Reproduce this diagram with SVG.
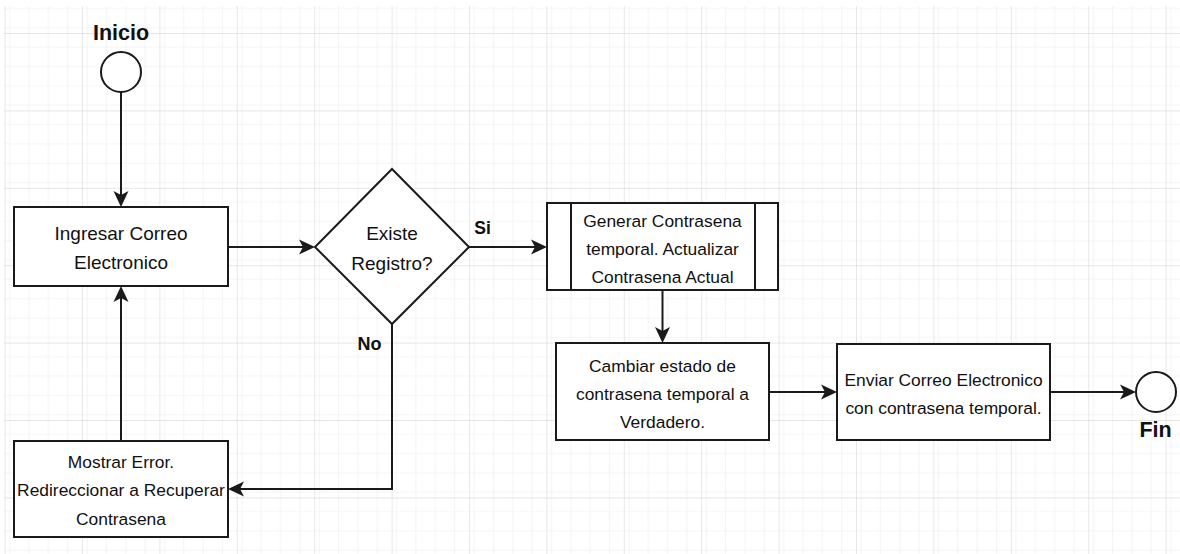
<svg xmlns="http://www.w3.org/2000/svg" width="1180" height="554" viewBox="0 0 1180 554">
  <style>
    .shape { fill: #ffffff; stroke: #1a1a1a; stroke-width: 2; }
    .edge { fill: none; stroke: #1a1a1a; stroke-width: 2; }
    .txt { font-family: "Liberation Sans", Arial, sans-serif; fill: #111111; text-anchor: middle; }
    .n17 { font-size: 17.4px; }
    .n19 { font-size: 19px; }
    .lbl { font-family: "Liberation Sans", Arial, sans-serif; font-weight: bold; fill: #111111; }
  </style>
  <defs>
    <pattern id="minorGrid" x="4.6" y="33" width="19.35" height="19.35" patternUnits="userSpaceOnUse">
      <path d="M0,0 H19.35 M0,0 V19.35" fill="none" stroke="#ececec" stroke-width="1.2"/>
    </pattern>
    <pattern id="majorGrid" x="4.6" y="33" width="77.4" height="77.4" patternUnits="userSpaceOnUse">
      <rect width="77.4" height="77.4" fill="url(#minorGrid)"/>
      <path d="M0,0 H77.4 M0,0 V77.4" fill="none" stroke="#dedede" stroke-width="1.4"/>
    </pattern>
    <marker id="arrow" viewBox="0 0 16 16" markerWidth="16" markerHeight="16" refX="4" refY="8" orient="auto" markerUnits="userSpaceOnUse">
      <path d="M16,8 L0,0.5 L4,8 L0,15.5 Z" fill="#1a1a1a"/>
    </marker>
  </defs>

  <!-- background grid -->
  <rect width="1180" height="554" fill="#ffffff"/>
  <rect x="4" y="6" width="1176" height="548" fill="url(#majorGrid)"/>

  <!-- connectors -->
  <g id="connectors">
    <path class="edge" d="M121,92 V195" marker-end="url(#arrow)"/>
    <path class="edge" d="M228,247 H303" marker-end="url(#arrow)"/>
    <path class="edge" d="M469,247 H535" marker-end="url(#arrow)"/>
    <path class="edge" d="M662.5,290 V331" marker-end="url(#arrow)"/>
    <path class="edge" d="M769,392 H825" marker-end="url(#arrow)"/>
    <path class="edge" d="M1050,392 H1124" marker-end="url(#arrow)"/>
    <path class="edge" d="M392,324 V489 H240" marker-end="url(#arrow)"/>
    <path class="edge" d="M121,441 V298" marker-end="url(#arrow)"/>
    <text class="lbl" x="482.5" y="234" font-size="17.5" text-anchor="middle">Si</text>
    <text class="lbl" x="369.5" y="350" font-size="18" text-anchor="middle">No</text>
  </g>

  <!-- start -->
  <g id="inicio">
    <circle class="shape" cx="121" cy="72" r="20"/>
    <text class="lbl" x="121" y="40" font-size="21.5" text-anchor="middle">Inicio</text>
  </g>

  <g id="ingresar-correo">
    <rect class="shape" x="14" y="207" width="214" height="79"/>
    <text class="txt n19" x="121" y="240">Ingresar Correo</text>
    <text class="txt n19" x="121" y="269">Electronico</text>
  </g>

  <g id="existe-registro">
    <path class="shape" d="M392,169 L469,247 L392,324 L315,247 Z"/>
    <text class="txt n19" x="392" y="240">Existe</text>
    <text class="txt n19" x="392" y="270">Registro?</text>
  </g>

  <g id="generar-contrasena">
    <rect class="shape" x="547" y="203" width="231" height="87"/>
    <path class="edge" d="M571,203 V290 M755,203 V290"/>
    <text class="txt n17" x="662.5" y="227">Generar Contrasena</text>
    <text class="txt n17" x="662.5" y="255">temporal. Actualizar</text>
    <text class="txt n17" x="662.5" y="283">Contrasena Actual</text>
  </g>

  <g id="cambiar-estado">
    <rect class="shape" x="556" y="343" width="213" height="97"/>
    <text class="txt n17" x="662.5" y="372">Cambiar estado de</text>
    <text class="txt n17" x="662.5" y="400">contrasena temporal a</text>
    <text class="txt n17" x="662.5" y="428">Verdadero.</text>
  </g>

  <g id="enviar-correo">
    <rect class="shape" x="837" y="344" width="213" height="96"/>
    <text class="txt n17" x="943.5" y="386">Enviar Correo Electronico</text>
    <text class="txt n17" x="943.5" y="414">con contrasena temporal.</text>
  </g>

  <!-- end -->
  <g id="fin">
    <circle class="shape" cx="1156" cy="392" r="20"/>
    <text class="lbl" x="1155.5" y="437" font-size="21.5" text-anchor="middle">Fin</text>
  </g>

  <g id="mostrar-error">
    <rect class="shape" x="14" y="441" width="214" height="96"/>
    <text class="txt n17" x="121" y="468">Mostrar Error.</text>
    <text class="txt n17" x="121" y="496">Redireccionar a Recuperar</text>
    <text class="txt n17" x="121" y="525">Contrasena</text>
  </g>
</svg>
